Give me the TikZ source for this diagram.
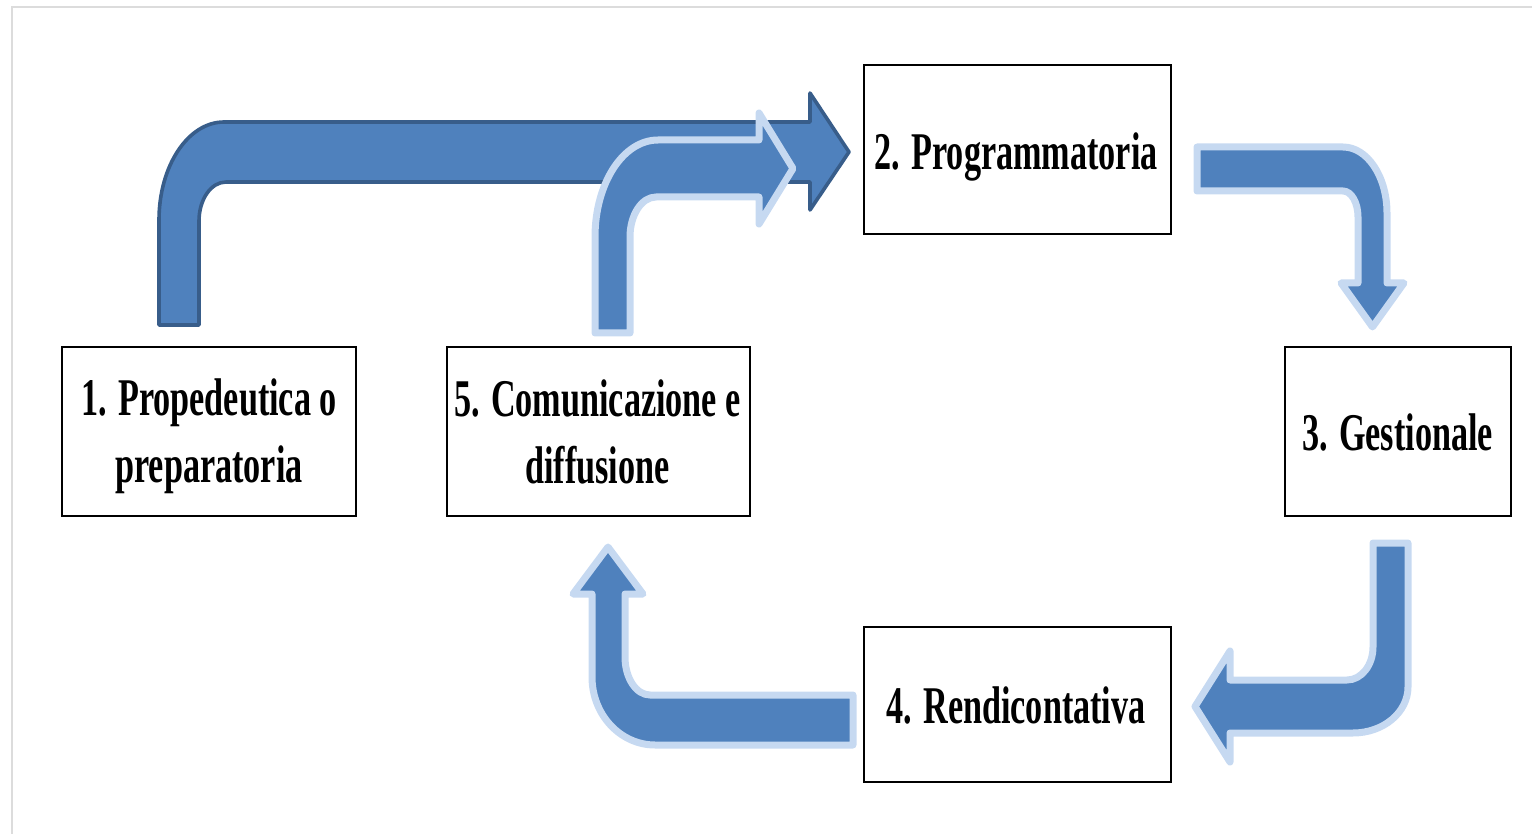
\documentclass[tikz,border=0pt]{standalone}
\usepackage{fontspec}
\newfontfamily\lblfont{Liberation Serif}[FakeStretch=0.645]
\usetikzlibrary{fit}
\definecolor{arrowfill}{HTML}{4F81BD}
\definecolor{arrowdark}{HTML}{385D8A}
\definecolor{arrowlight}{HTML}{C6D9F1}
\definecolor{framegray}{HTML}{DCDCDC}
\begin{document}
\begin{tikzpicture}[x=0.5pt,y=-0.5pt,
  stagebox/.style={draw=black, line width=1.4pt, fill=white, inner sep=0pt},
  stagetext/.style={font=\lblfont\bfseries\fontsize{26.5pt}{33.5pt}\selectfont, align=center, inner sep=0pt, anchor=base},
  bentdark/.style={fill=arrowfill, draw=arrowdark, line width=1.8pt, line join=round},
  bentlight/.style={fill=arrowfill, draw=arrowlight, line width=3.5pt, line join=round}]
\useasboundingbox (0,0) rectangle (1532,834);
% page frame
\draw[framegray, line width=1pt] (12,834) -- (12,7) -- (1532,7);

% stage boxes
\node[stagebox, fit={(62,347) (356,516)}] (s1) {};
\node[stagebox, fit={(864,65) (1171,234)}] (s2) {};
\node[stagebox, fit={(1285,347) (1511,516)}] (s3) {};
\node[stagebox, fit={(864,627) (1171,782)}] (s4) {};
\node[stagebox, fit={(447,347) (750,516)}] (s5) {};

% labels (base anchor sits on the last line)
\node[stagetext] (t1) at (209,482) {1. Propedeutica o\\preparatoria};
\node[stagetext] (t2) at (1016,170) {2. Programmatoria};
\node[stagetext] (t3) at (1397.5,450) {3. Gestionale};
\node[stagetext] (t4) at (1016,723) {4. Rendicontativa};
\node[stagetext] (t5) at (597.5,483) {5. Comunicazione e\\diffusione};

% bent arrow 1 -> 2
\draw[bentdark] (159,325) -- (159,220)
  .. controls (159,166) and (188,122) .. (224,122) -- (810,122) -- (810,93)
  -- (849,152) -- (810,210) -- (810,182) -- (226,182)
  .. controls (211,182) and (199,199.5) .. (199,221) -- (199,325) -- cycle;
% bent arrow 5 -> 2
\draw[bentlight] (595,333) -- (595,237)
  .. controls (595,183.5) and (623,140) .. (658,140) -- (759,140) -- (759,113)
  -- (793,168.5) -- (759,224) -- (759,197) -- (656,197)
  .. controls (641.6,197) and (630,215) .. (630,237) -- (630,333) -- cycle;
% bent arrow 2 -> 3
\draw[bentlight] (1197,147) -- (1343,147)
  .. controls (1367.3,147) and (1387,176.6) .. (1387,213) -- (1387,283) -- (1404,283)
  -- (1372.5,327) -- (1341,283) -- (1358,283) -- (1358,217)
  .. controls (1358,202.6) and (1351.3,191) .. (1343,191) -- (1197,191) -- cycle;
% bent arrow 3 -> 4
\draw[bentlight] (1373,543) -- (1408,543) -- (1408,687)
  .. controls (1408,712.4) and (1383.4,733) .. (1353,733) -- (1230,733) -- (1230,762)
  -- (1195,706.5) -- (1230,651) -- (1230,680) -- (1347,680)
  .. controls (1361.4,680) and (1373,665.2) .. (1373,647) -- cycle;
% bent arrow 4 -> 5
\draw[bentlight] (853,695) -- (853,745) -- (655,745)
  .. controls (620.2,745) and (592,714.5) .. (592,677) -- (592,594) -- (573,594)
  -- (608,547) -- (643,594) -- (625,594) -- (625,657)
  .. controls (625,678) and (636.2,695) .. (650,695) -- cycle;
\end{tikzpicture}
\end{document}
